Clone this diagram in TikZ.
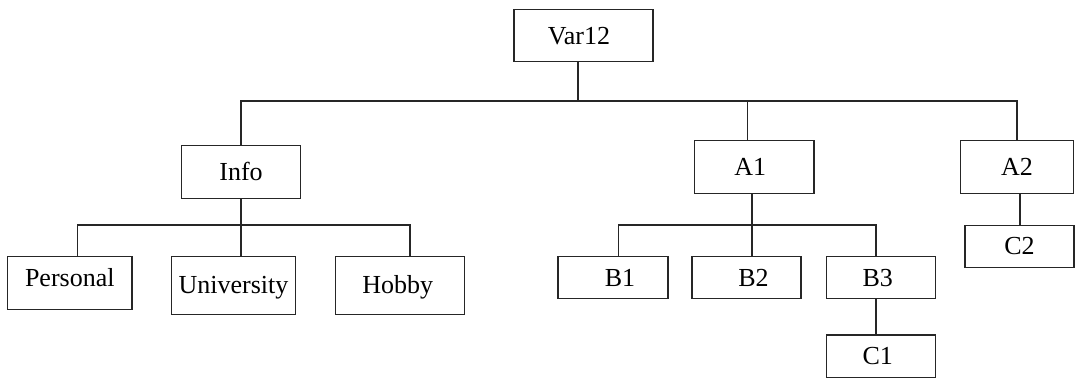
\documentclass[tikz,border=0pt]{standalone}
\usepackage{fontspec}
\setmainfont{Liberation Serif}
\begin{document}
\begin{tikzpicture}[x=1pt,y=-1pt,
  box/.style={draw=black!85, line width=1.1pt, inner sep=0pt,
    font=\fontsize{26}{30}\selectfont, text height=22pt, text depth=5pt},
  conn/.style={draw=black!85, line width=1.1pt}]
\useasboundingbox (0,0) rectangle (1075,380);
% nodes
\node[box, minimum width=139pt, minimum height=52.4pt] (var) at (583.5,35.5) {Var12\hspace*{9pt}};
\node[box, minimum width=119pt, minimum height=53pt] (info) at (241,172.2) {Info};
\node[box, minimum width=124.3pt, minimum height=53pt, text height=17pt, text depth=10pt] (pers) at (69.8,282.8) {Personal};
\node[box, minimum width=124pt, minimum height=58pt] (univ) at (233.5,285.3) {University};
\node[box, minimum width=129.5pt, minimum height=58pt] (hobby) at (399.8,285.3) {\hspace*{0pt}Hobby\hspace*{4pt}};
\node[box, minimum width=119.6pt, minimum height=53.3pt] (a1) at (754.2,166.7) {A1\hspace*{8pt}};
\node[box, minimum width=113pt, minimum height=53.3pt] (a2) at (1017,166.7) {A2};
\node[box, minimum width=109pt, minimum height=42.3pt] (c2) at (1019.5,246.2) {C2};
\node[box, minimum width=110pt, minimum height=42.4pt] (b1) at (613,277.5) {\hspace*{14pt}B1};
\node[box, minimum width=109pt, minimum height=42.4pt] (b2) at (746.5,277.5) {\hspace*{14pt}B2};
\node[box, minimum width=109.5pt, minimum height=42.4pt] (b3) at (880.8,277.5) {B3\hspace*{6pt}};
\node[box, minimum width=109.5pt, minimum height=42.7pt] (c1) at (880.8,356.3) {C1\hspace*{6pt}};
% bus coordinates
\coordinate (top) at (578,101);
\coordinate (infobus) at (241,225);
\coordinate (a1bus) at (752,225);
% connectors
\draw[conn] (var.south -| top) -- (top);
\draw[conn] (info.north) |- (a2.north |- top) -- (a2.north);
\draw[conn] ([xshift=-6.7pt]a1.north) -- ([xshift=-6.7pt]a1.north |- top);
\draw[conn] (info.south) -- (infobus);
\draw[conn] ([xshift=7.7pt]pers.north) |- ([xshift=10.2pt]hobby.north |- infobus) -- ([xshift=10.2pt]hobby.north);
\draw[conn] (infobus) -- ([xshift=7.5pt]univ.north);
\draw[conn] ([xshift=-2.2pt]a1.south) -- (a1bus);
\draw[conn] ([xshift=5.7pt]b1.north) |- ([xshift=-4.8pt]b3.north |- a1bus) -- ([xshift=-4.8pt]b3.north);
\draw[conn] (a1bus) -- ([xshift=5.5pt]b2.north);
\draw[conn] ([xshift=3pt]a2.south) -- ([xshift=0.5pt]c2.north);
\draw[conn] ([xshift=-4.8pt]b3.south) -- ([xshift=-4.8pt]c1.north);
\end{tikzpicture}
\end{document}
